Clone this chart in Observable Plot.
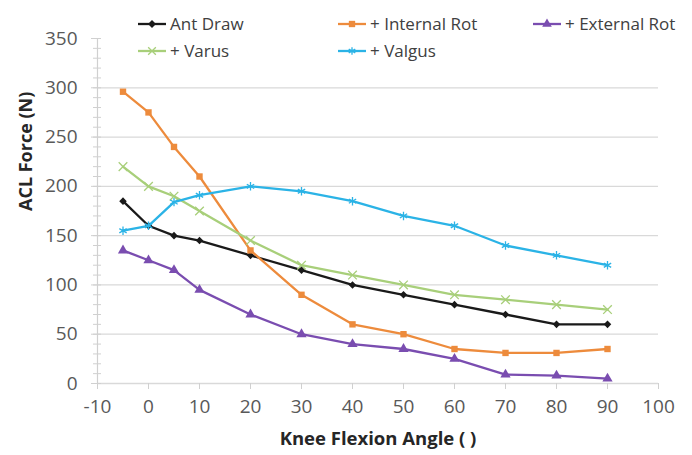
<!DOCTYPE html>
<html>
<head>
<meta charset="utf-8">
<script src="https://cdn.jsdelivr.net/npm/d3@7"></script>
<script src="https://cdn.jsdelivr.net/npm/@observablehq/plot@0.6"></script>
<style>
  body { margin: 0; background: #fff; }
  #chart { position: relative; width: 692px; height: 455px; font-family: "Open Sans", Lato, sans-serif; }
  #chart svg.plot { position: absolute; left: 0; top: 0; }
  .legend-item { position: absolute; display: flex; align-items: center; font-size: 17px; color: #404040; white-space: nowrap; }
  .legend-item svg { margin-right: 3px; }
</style>
</head>
<body>
<div id="chart"></div>
<script>
// Knee flexion angles (degrees) at which ACL force was measured
const angles = [-5, 0, 5, 10, 20, 30, 40, 50, 60, 70, 80, 90];

// ACL force (N) per loading condition
const antDraw     = [185, 160, 150, 145, 130, 115, 100, 90, 80, 70, 60, 60];
const internalRot = [296, 275, 240, 210, 135, 90, 60, 50, 35, 31, 31, 35];
const externalRot = [135, 125, 115, 95, 70, 50, 40, 35, 25, 9, 8, 5];
const varus       = [220, 200, 190, 175, 145, 120, 110, 100, 90, 85, 80, 75];
const valgus      = [155, 160, 184, 191, 200, 195, 185, 170, 160, 140, 130, 120];

const seriesNames = ["Ant Draw", "+ Internal Rot", "+ External Rot", "+ Varus", "+ Valgus"];
const seriesValues = [antDraw, internalRot, externalRot, varus, valgus];

const xTicks = [-10, 0, 10, 20, 30, 40, 50, 60, 70, 80, 90, 100];
const yTicks = [0, 50, 100, 150, 200, 250, 300, 350];
const yMinorTicks = d3.range(0, 351, 10);

// Per-series styling
const colors = ["#1a1a1a", "#ED8B3C", "#7A4DB0", "#A8CF7A", "#2BB3E6"];
const symbols = ["diamond2", "square", "triangle", "times", "asterisk"];
const sizes = [3.4, 3.6, 3.8, 4, 4];
const filled = [true, true, true, false, false];

const rows = seriesNames.flatMap((name, i) =>
  angles.map((a, j) => ({series: name, angle: a, force: seriesValues[i][j]}))
);

const seriesMarks = seriesNames.flatMap((name, i) => {
  const data = rows.filter(d => d.series === name);
  return [
    Plot.line(data, {x: "angle", y: "force", stroke: colors[i], strokeWidth: 2.3}),
    filled[i]
      ? Plot.dot(data, {x: "angle", y: "force", symbol: symbols[i], fill: colors[i], stroke: "none", r: sizes[i]})
      : Plot.dot(data, {x: "angle", y: "force", symbol: symbols[i], stroke: colors[i], strokeWidth: 1.3, r: sizes[i]})
  ];
});

const plain = d => String(d);

const chart = Plot.plot({
  width: 692,
  height: 455,
  marginLeft: 97,
  marginRight: 34,
  marginTop: 38,
  marginBottom: 72,
  style: {fontFamily: "'Open Sans', Lato, sans-serif", fontSize: "19px", color: "#595959", background: "#fff"},
  x: {domain: [-10, 100]},
  y: {domain: [0, 350]},
  marks: [
    Plot.gridY(yTicks.filter(t => t > 0 && t < 350), {stroke: "#d9d9d9", strokeOpacity: 1, strokeWidth: 1.3}),
    Plot.ruleY([0], {stroke: "#d9d9d9", strokeWidth: 1.3}),
    Plot.ruleX([-10], {stroke: "#d0d0d0", strokeWidth: 1.2}),
    Plot.axisY(yMinorTicks, {tickSize: 4, text: null, stroke: "#d0d0d0", label: null}),
    Plot.axisY(yMinorTicks, {tickSize: -4, text: null, stroke: "#d0d0d0", label: null}),
    Plot.axisY(yTicks, {tickSize: 6, tickPadding: 14, tickFormat: plain, stroke: "#d0d0d0", fill: "#595959", label: null}),
    Plot.axisX(xTicks, {tickSize: 6, tickPadding: 10, tickFormat: plain, stroke: "#d0d0d0", fill: "#595959", label: null}),
    Plot.text(["ACL Force (N)"], {frameAnchor: "left", rotate: -90, dx: -71, dy: 0, fontWeight: "bold", fontSize: 18, fill: "#262626"}),
    Plot.text(["Knee Flexion Angle ( )"], {frameAnchor: "bottom", dy: 61, fontWeight: "bold", fontSize: 18.5, fill: "#262626"}),
    ...seriesMarks
  ]
});

const root = document.getElementById("chart");
root.appendChild(chart);

// Legend drawn over the top of the chart, two rows of three columns
const legendPos = [
  {left: 137, top: 12}, {left: 337, top: 12}, {left: 532, top: 12},
  {left: 137, top: 39}, {left: 337, top: 39}
];
const d3Symbols = {
  diamond2: d3.symbolDiamond2, square: d3.symbolSquare, triangle: d3.symbolTriangle,
  times: d3.symbolTimes, asterisk: d3.symbolAsterisk
};
seriesNames.forEach((name, i) => {
  const item = document.createElement("div");
  item.className = "legend-item";
  item.style.left = legendPos[i].left + "px";
  item.style.top = legendPos[i].top + "px";
  const svg = d3.create("svg").attr("width", 30).attr("height", 16);
  svg.append("line").attr("x1", 1).attr("x2", 29).attr("y1", 8).attr("y2", 8)
    .attr("stroke", colors[i]).attr("stroke-width", 2.3);
  const path = svg.append("path").attr("transform", "translate(15,8)")
    .attr("d", d3.symbol(d3Symbols[symbols[i]], 40)());
  if (filled[i]) path.attr("fill", colors[i]);
  else path.attr("fill", "none").attr("stroke", colors[i]).attr("stroke-width", 1.3);
  item.appendChild(svg.node());
  const label = document.createElement("span");
  label.textContent = name;
  item.appendChild(label);
  root.appendChild(item);
});
</script>
</body>
</html>
